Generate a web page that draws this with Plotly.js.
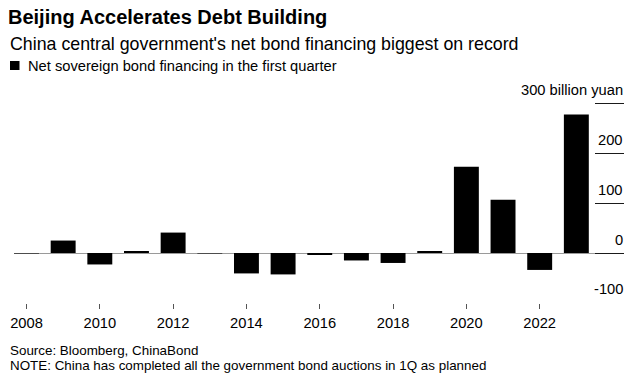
<!DOCTYPE html>
<html>
<head>
<meta charset="utf-8">
<script src="https://cdn.plot.ly/plotly-3.0.1.min.js"></script>
<style>
  html, body { margin: 0; padding: 0; background: #fff; }
  #chart { width: 640px; height: 378px; }
</style>
</head>
<body>
<div id="chart"></div>
<script>
// ---- data ----
const years = [2008, 2009, 2010, 2011, 2012, 2013, 2014, 2015, 2016, 2017, 2018, 2019, 2020, 2021, 2022, 2023];
const financing = [-1, 25, -23, 4, 41, -1, -41, -43, -4, -15, -20, 4, 173, 107, -34, 278];
const xTickVals = [2008, 2010, 2012, 2014, 2016, 2018, 2020, 2022];
const xTickText = ['2008', '2010', '2012', '2014', '2016', '2018', '2020', '2022'];
const yTickVals = [-100, 0, 100, 200, 300];
const yTickText = ['-100', '0', '100', '200', '300 billion yuan'];
const seriesName = 'Net sovereign bond financing in the first quarter';

// ---- layout constants (px) ----
const W = 640, H = 378;
const mL = 14, mR = 16, mT = 80, mB = 75;
const plotW = W - mL - mR, plotH = H - mT - mB;
const px = x => (x - mL) / plotW;          // pixel x -> paper x
const py = y => (H - mB - y) / plotH;      // pixel y -> paper y
const FONT = 'Liberation Sans, Arial, Helvetica, sans-serif';

const trace = {
  type: 'bar',
  x: years,
  y: financing,
  name: seriesName,
  width: 0.68,
  marker: { color: '#000000', line: { width: 0 } },
  showlegend: false
};

// y tick labels sit above their short gridline segments
const yLabelAnns = yTickVals.map((v, i) => ({
  text: yTickText[i],
  xref: 'paper', yref: 'y', x: px(625), y: v,
  xanchor: 'right', yanchor: 'middle', yshift: 13.5, showarrow: false,
  font: { family: FONT, size: 14.7, color: '#000000' }
}));

const layout = {
  width: W, height: H,
  margin: { l: mL, r: mR, t: mT, b: mB, pad: 0, autoexpand: false },
  paper_bgcolor: '#ffffff',
  plot_bgcolor: '#ffffff',
  font: { family: FONT, color: '#000000', size: 14.7 },
  title: {
    text: '<b>Beijing Accelerates Debt Building</b>',
    font: { family: FONT, size: 20, color: '#000000' },
    xref: 'container', yref: 'container',
    x: 8 / W, xanchor: 'left',
    y: 1 - 17 / H, yanchor: 'middle'
  },
  showlegend: false,
  xaxis: {
    range: [2007.659, 2024.30],
    tickvals: xTickVals,
    ticktext: xTickText,
    ticks: 'outside', ticklen: 5, tickwidth: 1, tickcolor: '#555555',
    ticklabelstandoff: 1,
    showgrid: false, zeroline: false, showline: false,
    tickfont: { family: FONT, size: 14.7, color: '#000000' },
    fixedrange: true
  },
  yaxis: {
    side: 'right',
    range: [-100.4, 347.4],
    tickvals: yTickVals,
    ticks: 'inside', ticklen: 29, tickwidth: 1, tickcolor: '#1a1a1a',
    showticklabels: false,
    showgrid: false, showline: false,
    zeroline: true, zerolinecolor: '#9a9a9a', zerolinewidth: 1,
    fixedrange: true
  },
  shapes: [
    { // legend swatch
      type: 'rect', xref: 'paper', yref: 'paper',
      x0: px(10), x1: px(19.5), y0: py(70), y1: py(61),
      fillcolor: '#000000', line: { width: 0 }
    }
  ],
  annotations: [
    {
      text: "China central government's net bond financing biggest on record",
      xref: 'paper', yref: 'paper', x: px(8), y: py(44),
      xanchor: 'left', yanchor: 'middle', showarrow: false,
      font: { family: FONT, size: 17.8, color: '#000000' }
    },
    {
      text: seriesName,
      xref: 'paper', yref: 'paper', x: px(25.5), y: py(66),
      xanchor: 'left', yanchor: 'middle', showarrow: false,
      font: { family: FONT, size: 14.7, color: '#000000' }
    },
    {
      text: 'Source: Bloomberg, ChinaBond',
      xref: 'paper', yref: 'paper', x: px(8), y: py(350),
      xanchor: 'left', yanchor: 'middle', showarrow: false,
      font: { family: FONT, size: 13.4, color: '#000000' }
    },
    {
      text: 'NOTE: China has completed all the government bond auctions in 1Q as planned',
      xref: 'paper', yref: 'paper', x: px(8), y: py(365.5),
      xanchor: 'left', yanchor: 'middle', showarrow: false,
      font: { family: FONT, size: 13.4, color: '#000000' }
    }
  ].concat(yLabelAnns)
};

Plotly.newPlot('chart', [trace], layout, { staticPlot: true, displayModeBar: false });
</script>
</body>
</html>
